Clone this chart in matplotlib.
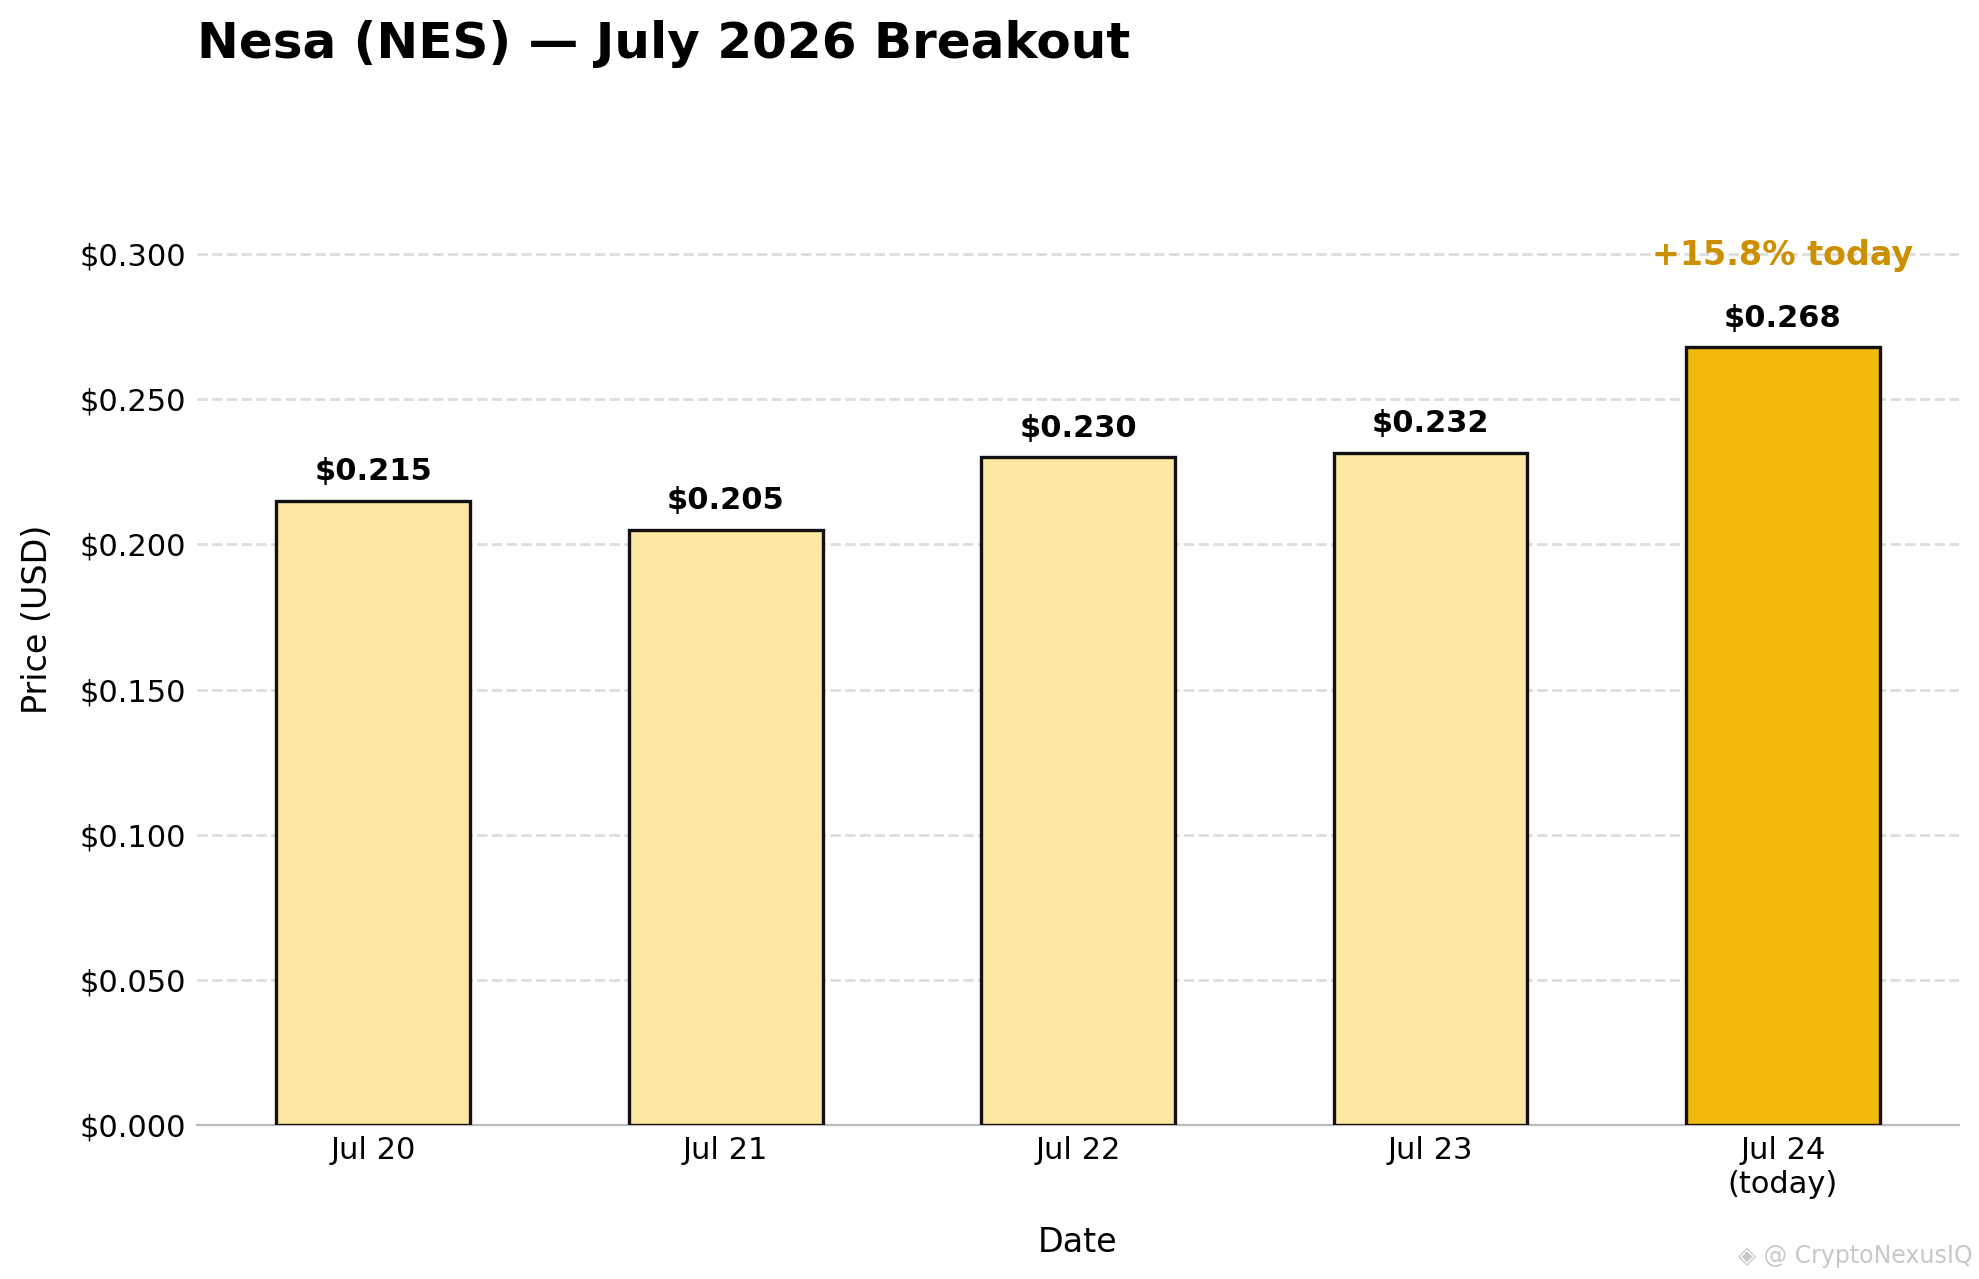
import matplotlib.pyplot as plt
from matplotlib.ticker import FuncFormatter

dates = ['Jul 20', 'Jul 21', 'Jul 22', 'Jul 23', 'Jul 24\n(today)']
prices = [0.215, 0.205, 0.230, 0.2316, 0.268]
bar_colors = ['#FCE8A2', '#FCE8A2', '#FCE8A2', '#FCE8A2', '#F0B90B']
change_text = '+15.8% today'

fig = plt.figure(figsize=(9.895, 6.395), dpi=200)
ax = fig.add_axes([0.0995, 0.1205, 0.8905, 0.7905])

x = range(len(dates))
ax.bar(x, prices, width=0.55, color=bar_colors, edgecolor='#111111', linewidth=1.2, zorder=3)

for i, p in zip(x, prices):
    ax.text(i, p + 0.005, f'${p:.3f}', ha='center', va='bottom',
            fontsize=11, fontweight='bold', color='black')

ax.text(len(dates) - 1, 0.294, change_text, ha='center', va='bottom',
        fontsize=12, fontweight='bold', color='#CC8F00')

ax.set_xlim(-0.5, len(dates) - 0.5)
ax.set_ylim(0, max(prices) * 1.3)
ax.set_yticks([0, 0.05, 0.10, 0.15, 0.20, 0.25, 0.30])
ax.yaxis.set_major_formatter(FuncFormatter(lambda v, _: f'${v:.3f}'))
ax.set_xticks(list(x))
ax.set_xticklabels(dates)
ax.tick_params(axis='both', length=0, labelsize=11, pad=4)

ax.grid(axis='y', linestyle='--', color='#dddddd', linewidth=1.0)
ax.set_axisbelow(True)
for s in ['top', 'right', 'left']:
    ax.spines[s].set_visible(False)
ax.spines['bottom'].set_color('#bbbbbb')

ax.set_ylabel('Price (USD)', fontsize=12, labelpad=9)
ax.set_xlabel('Date', fontsize=12, labelpad=10)
ax.set_title('Nesa (NES) — July 2026 Breakout', loc='left', fontsize=18,
             fontweight='bold', pad=20)

fig.text(0.997, 0.018, '◈ @ CryptoNexusIQ', ha='right', va='center',
         fontsize=8.5, color='#c8c8c8')

fig.savefig('out.png', dpi=200)
